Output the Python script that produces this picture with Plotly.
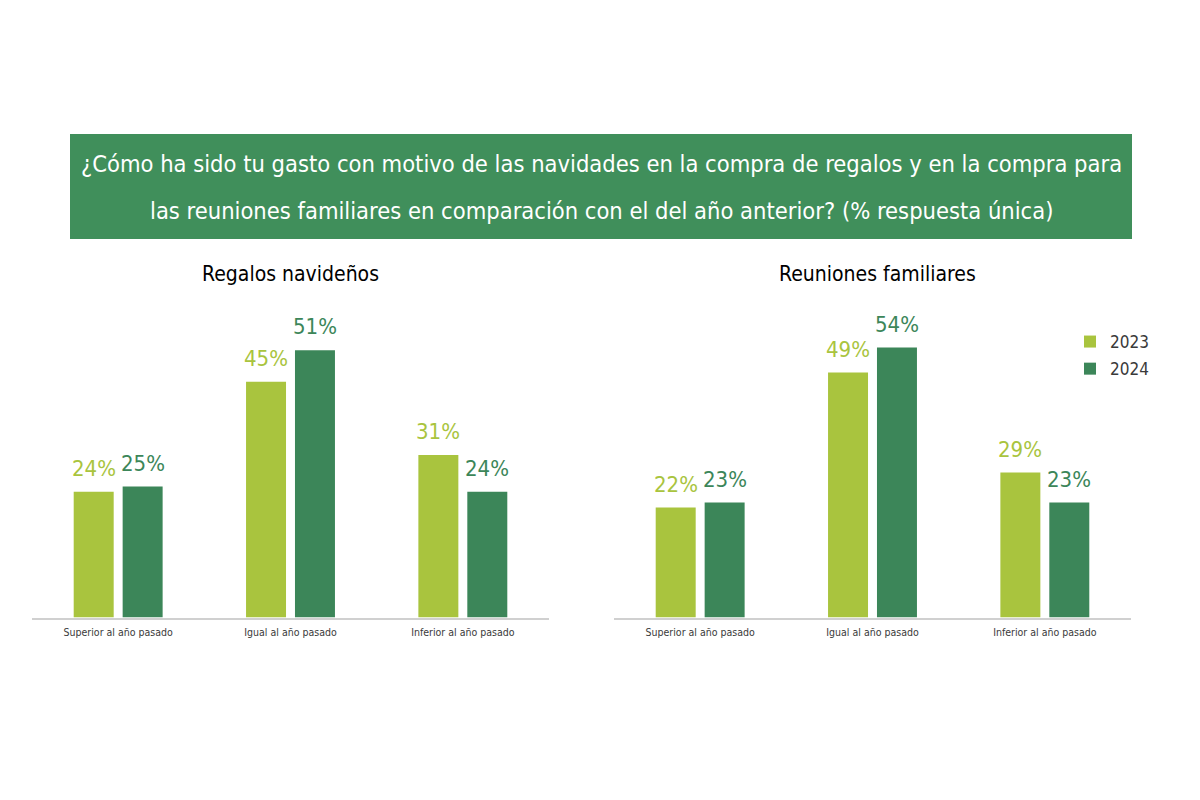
import plotly.graph_objects as go

categories_left = ["Superior al año pasado", "Igual al año pasado", "Inferior al año pasado"]
categories_right = ["Superior al año pasado", "Igual al año pasado", "Inferior al año pasado"]
regalos_2023 = [24, 45, 31]
regalos_2024 = [25, 51, 24]
reuniones_2023 = [22, 49, 29]
reuniones_2024 = [23, 54, 23]
series_names = ["2023", "2024"]
title_lines = [
    "¿Cómo ha sido tu gasto con motivo de las navidades en la compra de regalos y en la compra para",
    "las reuniones familiares en comparación con el del año anterior? (% respuesta única)",
]
subtitles = ["Regalos navideños", "Reuniones familiares"]

LIGHT = "#A9C43E"
DARK = "#3C8659"
BOX = "#408F5B"
FONT = "Liberation Sans Narrow, DejaVu Sans Condensed, Roboto, sans-serif"

W, H = 1200, 800
def px(x): return x / W
def py(y): return 1 - y / H

fig = go.Figure()
idx = [0, 1, 2]
off = 0.142
bw = 0.232

panels = [
    ("x", "y", regalos_2023, regalos_2024, True),
    ("x2", "y2", reuniones_2023, reuniones_2024, False),
]
annotations = []
for xa, ya, v23, v24, show in panels:
    for vals, name, col, sgn in [(v23, series_names[0], LIGHT, -1), (v24, series_names[1], DARK, 1)]:
        xs = [i + sgn * off for i in idx]
        fig.add_trace(go.Bar(
            x=xs, y=vals, width=bw, name=name, marker=dict(color=col, line=dict(width=0)),
            xaxis=xa, yaxis=ya, showlegend=show, legendgroup=name, hoverinfo="skip",
        ))
        for xv, v in zip(xs, vals):
            annotations.append(dict(
                x=xv, y=v, xref=xa, yref=ya, text=f"{v}%", showarrow=False,
                yanchor="bottom", yshift=9, font=dict(family=FONT, size=22, color=col),
            ))

base = 617.5
fig.update_layout(
    width=W, height=H, margin=dict(l=0, r=0, t=0, b=0),
    paper_bgcolor="white", plot_bgcolor="white",
    barmode="overlay",
    font=dict(family=FONT),
    xaxis=dict(domain=[px(32), px(549)], range=[-0.5, 2.5], tickvals=idx, ticktext=categories_left,
               showline=True, linecolor="#D0D0D0", linewidth=1.5, showgrid=False, zeroline=False,
               ticks="", ticklabelstandoff=4,
               tickfont=dict(family=FONT, size=10.5, color="#3A3A3A"), fixedrange=True),
    yaxis=dict(domain=[py(base), py(base - 60 * 5.24)], range=[0, 60], visible=False, fixedrange=True),
    xaxis2=dict(domain=[px(614), px(1131)], range=[-0.5, 2.5], tickvals=idx, ticktext=categories_right,
                showline=True, linecolor="#D0D0D0", linewidth=1.5, showgrid=False, zeroline=False,
                ticks="", ticklabelstandoff=4,
                tickfont=dict(family=FONT, size=10.5, color="#3A3A3A"), anchor="y2", fixedrange=True),
    yaxis2=dict(domain=[py(base), py(base - 60 * 5.0)], range=[0, 60], visible=False, anchor="x2", fixedrange=True),
    legend=dict(x=px(1070), y=py(324), xanchor="left", yanchor="top",
                font=dict(family=FONT, size=17, color="#3A3A3A"), bgcolor="rgba(0,0,0,0)",
                tracegroupgap=2, itemwidth=30),
    shapes=[dict(type="rect", xref="paper", yref="paper", x0=px(70), x1=px(1132), y0=py(134), y1=py(239),
                 fillcolor=BOX, line=dict(width=0), layer="below")],
)

annotations.append(dict(x=px(601), y=py(164), xref="paper", yref="paper", text=title_lines[0], showarrow=False,
                        font=dict(family=FONT, size=23.5, color="white"), xanchor="center", yanchor="middle"))
annotations.append(dict(x=px(601), y=py(211), xref="paper", yref="paper", text=title_lines[1], showarrow=False,
                        font=dict(family=FONT, size=23.5, color="white"), xanchor="center", yanchor="middle"))
annotations.append(dict(x=px(290), y=py(274), xref="paper", yref="paper", text=subtitles[0], showarrow=False,
                        font=dict(family=FONT, size=21, color="black"), xanchor="center", yanchor="middle"))
annotations.append(dict(x=px(877), y=py(274), xref="paper", yref="paper", text=subtitles[1], showarrow=False,
                        font=dict(family=FONT, size=21, color="black"), xanchor="center", yanchor="middle"))
fig.update_layout(annotations=annotations)

fig.write_html("out.html")
